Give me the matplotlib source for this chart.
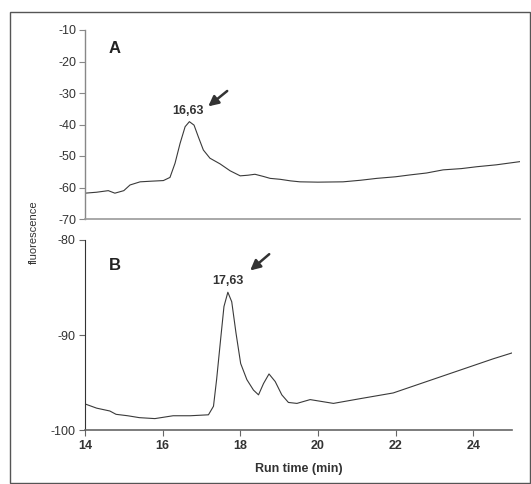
import matplotlib
matplotlib.use("Agg")
import matplotlib.pyplot as plt
from matplotlib.patches import Rectangle

plt.rcParams['font.family'] = ['Liberation Sans', 'DejaVu Sans']
plt.rcParams['axes.unicode_minus'] = False

# Panel A data
time_a = [14.0, 14.3, 14.6, 14.77, 15.0, 15.16, 15.42, 15.7, 16.02, 16.19, 16.32, 16.45, 16.58, 16.69,
          16.81, 16.92, 17.05, 17.22, 17.48, 17.74, 18.0, 18.2, 18.38, 18.6, 18.77, 19.03, 19.3, 19.54,
          20.0, 20.65, 21.1, 21.52, 22.0, 22.38, 22.8, 23.23, 23.7, 24.1, 24.6, 25.2]
fluor_a = [-61.8, -61.5, -61.0, -61.8, -61.0, -59.2, -58.2, -58.0, -57.8, -56.8, -52.3, -46.0, -40.7, -39.1,
           -40.2, -43.9, -48.1, -50.7, -52.5, -54.7, -56.3, -56.1, -55.8, -56.5, -57.1, -57.4, -57.9, -58.2,
           -58.3, -58.2, -57.7, -57.1, -56.6, -56.0, -55.4, -54.4, -54.0, -53.4, -52.8, -51.8]

# Panel B data
time_b = [14.03, 14.3, 14.64, 14.8, 15.1, 15.4, 15.8, 16.27, 16.71, 17.18, 17.31, 17.39, 17.5, 17.58, 17.68,
          17.78, 17.89, 18.01, 18.17, 18.34, 18.47, 18.6, 18.74, 18.9, 19.07, 19.24, 19.46, 19.8, 20.4, 21.09,
          21.94, 22.8, 23.66, 24.52, 24.99]
fluor_b = [-97.3, -97.7, -98.0, -98.35, -98.5, -98.7, -98.8, -98.5, -98.5, -98.4, -97.5, -94.7, -90.2, -87.0, -85.5,
           -86.5, -89.8, -93.0, -94.7, -95.8, -96.3, -95.1, -94.1, -94.9, -96.3, -97.1, -97.2, -96.8, -97.2, -96.7,
           -96.1, -94.9, -93.7, -92.5, -91.9]

yticks_a = [-10, -20, -30, -40, -50, -60, -70]
yticks_b = [-80, -90, -100]
xticks = [14, 16, 18, 20, 22, 24]

W, H = 531, 484
fig = plt.figure(figsize=(W / 100, H / 100), dpi=100)

def fx(px):
    return px / W

def fy(py):
    return 1 - py / H

line_color = '#3a3a3a'
tick_color = '#333333'

# frame
fig.patches.append(Rectangle((fx(10), fy(483)), fx(520), (483 - 12) / H, transform=fig.transFigure,
                             fill=False, edgecolor='#555555', linewidth=1.0))

# Top axes
axA = fig.add_axes([fx(85), fy(219), fx(520 - 85), (219 - 30) / H])
axA.plot(time_a, fluor_a, color=line_color, linewidth=0.8)
axA.set_xlim(14, 25.21)
axA.set_ylim(-70, -10)
axA.set_yticks(yticks_a)
axA.set_yticklabels([str(v) for v in yticks_a])
axA.set_xticks([])
for s in ['top', 'right']:
    axA.spines[s].set_visible(False)
axA.spines['left'].set_color('#888888')
axA.spines['bottom'].set_color('#999999')
axA.spines['left'].set_linewidth(1.0)
axA.spines['bottom'].set_linewidth(1.2)
axA.tick_params(axis='y', direction='out', length=4, color='#888888', labelsize=9, labelcolor=tick_color, pad=2)
axA.text(0.055, 0.88, 'A', transform=axA.transAxes, fontsize=12, fontweight='bold', color='#222222')
axA.annotate('16,63', xy=(16.66, -37.5), ha='center', va='bottom', fontsize=9, fontweight='bold', color='#333333')
axA.annotate('', xy=(17.12, -34.8), xytext=(17.72, -28.8),
             arrowprops=dict(arrowstyle='-|>,head_width=0.3,head_length=0.6', color='#333333', lw=1.8))

# Bottom axes
axB = fig.add_axes([fx(85), fy(430), fx(512 - 85), (430 - 240) / H])
axB.plot(time_b, fluor_b, color=line_color, linewidth=0.8)
axB.set_xlim(14, 25)
axB.set_ylim(-100, -80)
axB.set_yticks(yticks_b)
axB.set_yticklabels([str(v) for v in yticks_b])
axB.set_xticks(xticks)
axB.set_xticklabels([str(v) for v in xticks])
for s in ['top', 'right']:
    axB.spines[s].set_visible(False)
axB.spines['left'].set_color('#333333')
axB.spines['bottom'].set_color('#666666')
axB.spines['bottom'].set_linewidth(1.2)
axB.tick_params(axis='both', direction='out', length=4, color='#666666', labelsize=9, labelcolor=tick_color, pad=3)
for lab in axB.get_xticklabels():
    lab.set_fontweight('bold')
axB.text(0.055, 0.84, 'B', transform=axB.transAxes, fontsize=12, fontweight='bold', color='#222222')
axB.annotate('17,63', xy=(17.67, -84.9), ha='center', va='bottom', fontsize=9, fontweight='bold', color='#333333')
axB.annotate('', xy=(18.2, -83.4), xytext=(18.8, -81.3),
             arrowprops=dict(arrowstyle='-|>,head_width=0.3,head_length=0.6', color='#333333', lw=1.8))
axB.set_xlabel('Run time (min)', fontsize=9, fontweight='bold', color='#333333', labelpad=8)

fig.text(fx(34), fy(232), 'fluorescence', rotation=90, ha='center', va='center', fontsize=8, color='#333333')

fig.savefig('out.png', dpi=100)
